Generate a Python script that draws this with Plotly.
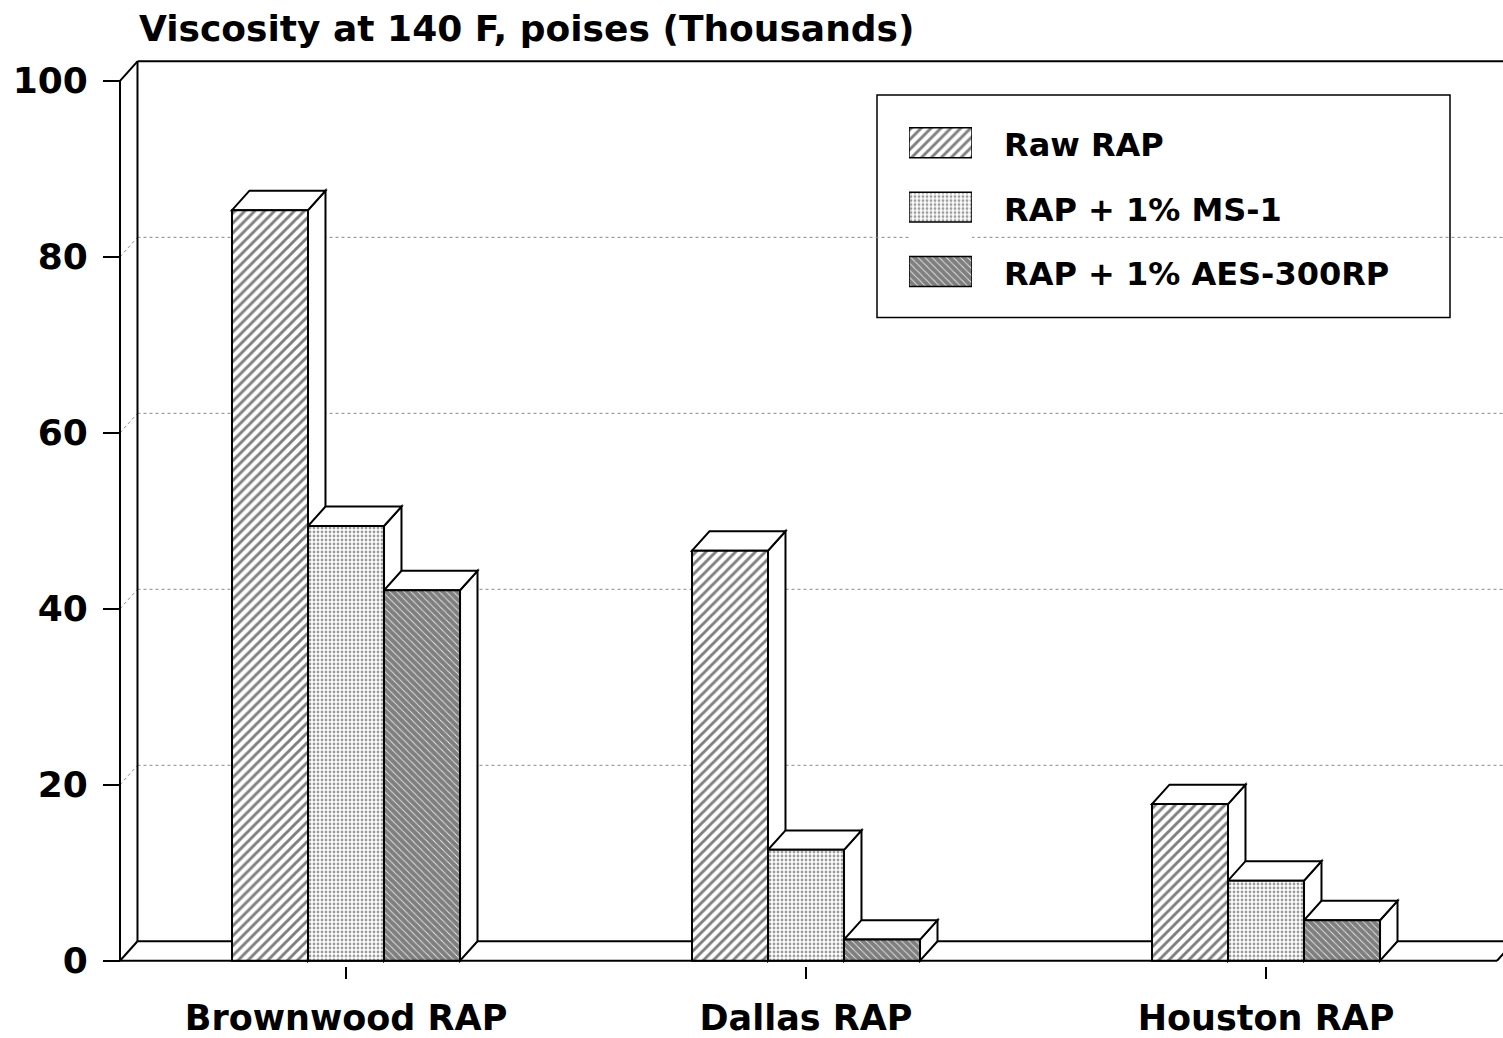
import plotly.graph_objects as go

# ---- data -----------------------------------------------------------------
categories = ["Brownwood RAP", "Dallas RAP", "Houston RAP"]
series_names = ["Raw RAP", "RAP + 1% MS-1", "RAP + 1% AES-300RP"]
raw_rap = [85.3, 46.6, 17.8]
rap_ms1 = [49.4, 12.6, 9.1]
rap_aes = [42.1, 2.4, 4.6]
y_ticks = [0, 20, 40, 60, 80, 100]
title_text = "Viscosity at 140 F, poises (Thousands)"

series_values = [raw_rap, rap_ms1, rap_aes]

# ---- geometry ---------------------------------------------------------------
W, H = 1503, 1038
M_L, M_R, M_T, M_B = 0, 0, 50, 70
X_RANGE = [-0.7522, 2.5152]
Y_RANGE = [-0.6, 103.5]
PLOT_H = H - M_T - M_B

GROUP_W = 0.4957                 # width of one category's bar group
BAR_W = GROUP_W / 3
DX, DY = 0.038, 2.21             # oblique depth offset (x units, y units)
X_LEFT, X_RIGHT = -0.4913, 2.5022  # ends of the front floor edge
X_FAR = 2.7
Y_TOP = 100

FONT = "DejaVu Sans"


def px_x(p):
    return p / W


def px_y(p):
    return (H - M_B - p) / PLOT_H


patterns = [
    dict(shape="/", size=7, solidity=0.42, fgcolor="black", bgcolor="white"),
    dict(shape=".", size=4, solidity=0.4, fgcolor="#3a3a3a", bgcolor="white"),
    dict(shape="\\", size=5, solidity=0.85, fgcolor="black", bgcolor="white"),
]

fig = go.Figure()

# front faces of the bars
cat_idx = list(range(len(categories)))
for k, (name, vals) in enumerate(zip(series_names, series_values)):
    fig.add_trace(go.Bar(
        x=cat_idx, y=vals, name=name,
        width=BAR_W, offset=-GROUP_W / 2 + k * BAR_W,
        marker=dict(color="white", pattern=patterns[k],
                    line=dict(color="black", width=2)),
        showlegend=False, hoverinfo="skip",
    ))

shapes = []
line_k = dict(color="black", width=2)
grid_k = dict(color="#8a8a8a", width=1, dash="dot")

# dotted gridlines on the back wall plus their diagonals on the side wall
for v in y_ticks[1:-1]:
    shapes.append(dict(type="line", xref="x", yref="y", layer="below",
                       x0=X_LEFT + DX, y0=v + DY, x1=X_FAR, y1=v + DY, line=grid_k))
    shapes.append(dict(type="line", xref="x", yref="y", layer="below",
                       x0=X_LEFT, y0=v, x1=X_LEFT + DX, y1=v + DY, line=grid_k))

# floor, back wall and front value axis
frame = [
    (X_LEFT, 0, X_RIGHT, 0),
    (X_LEFT + DX, DY, X_FAR, DY),
    (X_LEFT, 0, X_LEFT + DX, DY),
    (X_RIGHT, 0, X_RIGHT + DX, DY),
    (X_LEFT, 0, X_LEFT, Y_TOP),
    (X_LEFT + DX, DY, X_LEFT + DX, Y_TOP + DY),
    (X_LEFT, Y_TOP, X_LEFT + DX, Y_TOP + DY),
    (X_LEFT + DX, Y_TOP + DY, X_FAR, Y_TOP + DY),
]
for x0, y0, x1, y1 in frame:
    shapes.append(dict(type="line", xref="x", yref="y", layer="below",
                       x0=x0, y0=y0, x1=x1, y1=y1, line=line_k))

# side and top faces of each bar, painted left to right
for c in cat_idx:
    for k, vals in enumerate(series_values):
        v = vals[c]
        x0 = c - GROUP_W / 2 + k * BAR_W
        x1 = x0 + BAR_W
        side = (f"M {x1},0 L {x1},{v} L {x1 + DX},{v + DY} "
                f"L {x1 + DX},{DY} Z")
        top = (f"M {x0},{v} L {x1},{v} L {x1 + DX},{v + DY} "
               f"L {x0 + DX},{v + DY} Z")
        for path in (side, top):
            shapes.append(dict(type="path", xref="x", yref="y", layer="below",
                               path=path, fillcolor="white", line=line_k))

# legend box
shapes.append(dict(type="rect", xref="paper", yref="paper", layer="below",
                   x0=px_x(877), x1=px_x(1450), y0=px_y(318), y1=px_y(95),
                   fillcolor="white", line=dict(color="black", width=1.5)))

# legend swatches on their own small axes
for k, name in enumerate(series_names):
    fig.add_trace(go.Bar(
        x=[1], y=[k], base=0, orientation="h", width=0.465, offset=-0.2325,
        xaxis="x2", yaxis="y2",
        marker=dict(color="white", pattern=patterns[k],
                    line=dict(color="black", width=1.5)),
        showlegend=False, hoverinfo="skip",
    ))

annotations = [
    dict(text=title_text, xref="paper", yref="paper", x=px_x(137), y=px_y(28),
         xanchor="left", yanchor="middle", showarrow=False,
         font=dict(family=FONT, size=36, color="black", weight="bold")),
]
row_centers = [145, 210, 274]
for name, yc in zip(series_names, row_centers):
    annotations.append(dict(text=name, xref="paper", yref="paper",
                            x=px_x(1002), y=px_y(yc), xanchor="left",
                            yanchor="middle", showarrow=False,
                            font=dict(family=FONT, size=32, color="black",
                                      weight="bold")))

fig.update_layout(
    width=W, height=H,
    margin=dict(l=M_L, r=M_R, t=M_T, b=M_B),
    paper_bgcolor="white", plot_bgcolor="white",
    barmode="overlay", showlegend=False,
    shapes=shapes, annotations=annotations,
    xaxis=dict(range=X_RANGE, domain=[0, 1], tickvals=cat_idx,
               ticktext=categories, ticks="outside", ticklen=12, tickwidth=1.5,
               tickcolor="black", showgrid=False, zeroline=False,
               showline=False, anchor="y", ticklabelstandoff=9,
               tickfont=dict(family=FONT, size=35, color="black", weight="bold")),
    yaxis=dict(range=Y_RANGE, domain=[0, 1], anchor="free",
               position=px_x(120), tickvals=y_ticks, ticks="outside",
               ticklen=17, tickwidth=2, tickcolor="black", showgrid=False,
               zeroline=False, showline=False, ticklabelstandoff=8,
               tickfont=dict(family=FONT, size=36, color="black", weight="bold")),
    xaxis2=dict(domain=[px_x(909), px_x(972)], range=[0, 1], visible=False,
                anchor="y2", fixedrange=True),
    yaxis2=dict(domain=[px_y(304.25), px_y(110.75)], range=[2.5, -0.5],
                visible=False, anchor="x2", fixedrange=True),
)

fig.write_html("out.html")
